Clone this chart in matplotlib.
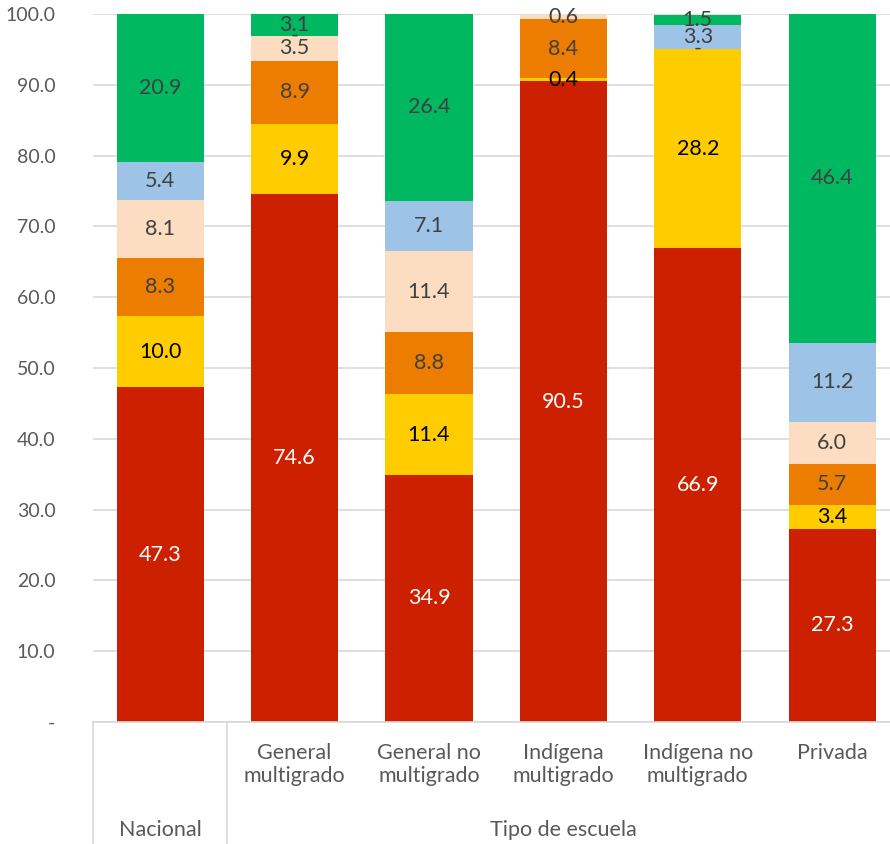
import matplotlib.pyplot as plt
import numpy as np

plt.rcParams['font.family'] = ['Lato', 'DejaVu Sans']

categorias = ['Nacional', 'General\nmultigrado', 'General no\nmultigrado',
              'Indígena\nmultigrado', 'Indígena no\nmultigrado', 'Privada']
grupos = ['Nacional', 'Tipo de escuela']

# segmentos de abajo hacia arriba (nan = sin barra ni etiqueta)
rojo = [47.3, 74.6, 34.9, 90.5, 66.9, 27.3]
amarillo = [10.0, 9.9, 11.4, 0.4, 28.2, 3.4]
naranja = [8.3, 8.9, 8.8, 8.4, 0.0, 5.7]
durazno = [8.1, 3.5, 11.4, 0.6, np.nan, 6.0]
azul = [5.4, 0.0, 7.1, np.nan, 3.3, 11.2]
verde = [20.9, 3.1, 26.4, np.nan, 1.5, 46.4]

series = [rojo, amarillo, naranja, durazno, azul, verde]
colores = ['#CD2000', '#FFCC00', '#ED7D00', '#FCDDC2', '#9DC3E6', '#00B860']
color_txt = ['white', 'black', '#404040', '#404040', '#404040', '#404040']

fig = plt.figure(figsize=(8.9, 8.44), dpi=100)
ax = fig.add_axes([93/890, 1 - 722/844, 1 - 93/890, 708/844])

x = np.arange(len(categorias))
base = np.zeros(len(categorias))
for vals, col, tc in zip(series, colores, color_txt):
    v = np.array(vals, dtype=float)
    h = np.nan_to_num(v)
    ax.bar(x, h, 0.65, bottom=base, color=col, zorder=2)
    for i in range(len(x)):
        if np.isnan(v[i]):
            continue
        txt = '-' if v[i] == 0 else f'{v[i]:.1f}'
        ax.text(x[i], base[i] + h[i] / 2, txt, ha='center', va='center',
                color=tc, fontsize=15.5, zorder=3)
    base = base + h

ax.set_xlim(-0.5, 5.43)
ax.set_ylim(0, 100)
ax.set_yticks(np.arange(0, 101, 10))
ax.set_yticklabels(['-'] + [f'{t:.1f}' for t in range(10, 101, 10)])
ax.yaxis.grid(True, color='#D9D9D9', lw=1.2, zorder=0)
ax.tick_params(axis='y', length=0, labelsize=14, labelcolor='#595959', pad=27)
ax.tick_params(axis='x', length=0)
ax.set_xticks([])
for s in ['top', 'right', 'left']:
    ax.spines[s].set_visible(False)
ax.spines['bottom'].set_color('#D9D9D9')
ax.spines['bottom'].set_linewidth(1.2)

# eje x de dos niveles
trans = ax.get_xaxis_transform()
for xs in [-0.5, 0.5]:
    ax.plot([xs, xs], [0, -0.175], color='#D9D9D9', lw=1.2,
            transform=trans, clip_on=False)
for i, c in enumerate(categorias[1:], start=1):
    ax.text(i, -0.029, c, ha='center', va='top', transform=trans,
            fontsize=15.5, color='#595959', linespacing=1.2)
ax.text(0, -0.152, grupos[0], ha='center', va='center', transform=trans,
        fontsize=15.5, color='#595959')
ax.text(3, -0.152, grupos[1], ha='center', va='center', transform=trans,
        fontsize=15.5, color='#595959')

fig.savefig('out.png', dpi=100)
